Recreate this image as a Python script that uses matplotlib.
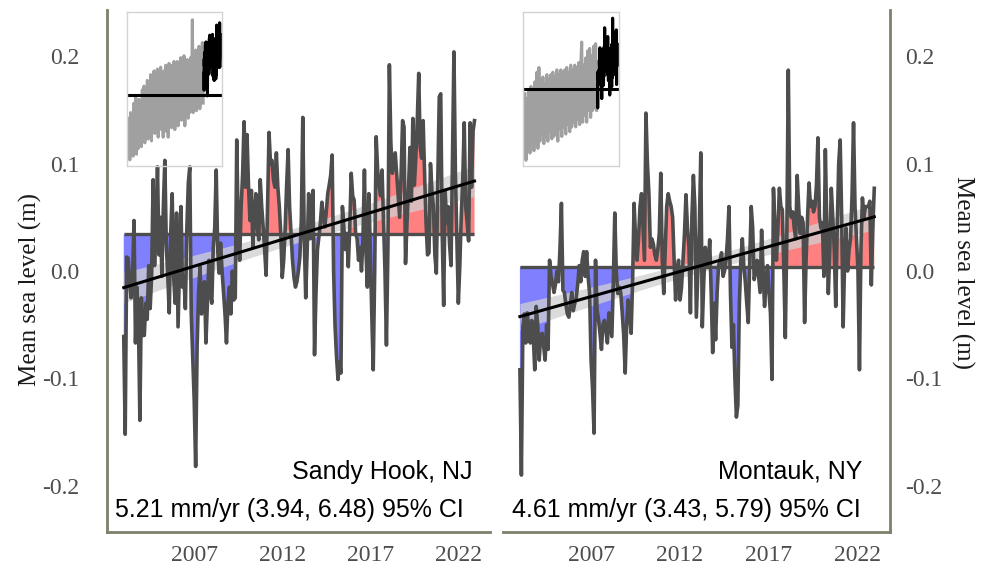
import numpy as np
import matplotlib
matplotlib.use('Agg')
import matplotlib.pyplot as plt

# Monthly mean sea level (m), Jan 2003 onwards
start_year = 2003.0

sandy_hook_msl = [
    -0.061, -0.152, 0.013, 0.012, -0.010, -0.025, -0.005, 0.047, -0.067, -0.015,
    -0.045, -0.139, -0.025, -0.060, -0.060, -0.030, -0.045, 0.005, -0.035,
    -0.005, 0.085, 0.005, 0.045, 0.097, 0.015, 0.050, -0.005, 0.060, 0.103,
    0.025, -0.005, -0.039, 0.035, 0.072, -0.005, -0.030, 0.054, -0.052,
    0.005, 0.060, -0.015, -0.005, -0.035, 0.040, 0.082, 0.097, -0.040, -0.080,
    -0.120, -0.182, -0.070, -0.020, 0.004, -0.040, -0.027, -0.010, -0.067, -0.030,
    0.010, -0.020, -0.030, 0.022, 0.040, 0.094, 0.020, -0.002, 0.026,
    0.000, -0.020, -0.040, -0.067, -0.030, -0.015, -0.040, 0.000, -0.027, -0.025,
    0.122, 0.040, 0.010, 0.060, 0.090, 0.139, 0.078, 0.127, 0.080,
    0.047, 0.075, 0.022, 0.050, 0.072, 0.040, 0.029, 0.085, 0.060, 0.041,
    0.020, -0.004, 0.060, 0.129, 0.100, 0.103, 0.085, 0.078, 0.110, 0.078,
    0.060, 0.035, -0.006, 0.010, 0.040, 0.080, 0.113, 0.060, 0.035,
    0.010, -0.006, -0.015, -0.010, 0.000, 0.013, 0.047, 0.143, 0.030, -0.025,
    0.020, 0.072, 0.030, 0.047, 0.075, -0.078, -0.020, 0.020, 0.032,
    0.045, 0.064, 0.050, 0.041, 0.055, 0.072, 0.080, 0.089, 0.108, 0.000,
    -0.052, -0.080, -0.101, -0.085, -0.095, 0.060, 0.040, 0.020, 0.035, 0.004,
    0.040, 0.091, 0.070, 0.066, 0.035, 0.030, 0.010, 0.022, 0.000,
    0.030, 0.094, 0.020, -0.015, 0.072, 0.020, -0.040, -0.092, 0.000, 0.125,
    0.094, 0.080, 0.070, 0.094, 0.047, 0.000, -0.069, 0.020, 0.192,
    0.120, 0.091, 0.100, 0.110, 0.090, 0.070, 0.050, 0.090, 0.140, 0.134,
    0.007, 0.045, 0.075, 0.115, 0.065, 0.142, 0.080, 0.105, 0.140, 0.184,
    0.115, 0.105, 0.140, 0.090, 0.045, 0.015, 0.017, 0.100, 0.075,
    0.060, 0.015, -0.002, 0.085, 0.162, 0.165, 0.035, -0.032, 0.075, 0.045,
    0.060, 0.025, 0.005, 0.105, 0.204, 0.090, 0.028, -0.030, 0.005,
    0.052, 0.085, 0.138, 0.060, 0.045, 0.028, 0.138, 0.078, 0.130, 0.140,
]

montauk_msl = [
    -0.092, -0.190, -0.052, -0.040, -0.067, -0.039, -0.055, -0.067, -0.046, -0.060,
    -0.092, -0.033, -0.050, -0.083, -0.060, -0.058, -0.070, -0.083, -0.050, -0.073,
    0.010, -0.005, -0.012, -0.020, -0.012, 0.000, -0.010, 0.020, 0.063, -0.018,
    -0.020, -0.031, -0.040, -0.043, -0.031, -0.020, -0.037, -0.030, -0.025, -0.012,
    0.005, -0.010, 0.010, 0.018, -0.005, 0.018, -0.005, -0.021, -0.083, -0.110,
    -0.151, 0.010, -0.036, -0.045, -0.058, -0.073, -0.050, -0.046, -0.055, -0.067,
    -0.039, -0.050, -0.061, -0.010, 0.054, 0.000, -0.021, -0.015, -0.020, -0.039,
    -0.060, -0.095, -0.050, -0.027, -0.040, -0.058, -0.010, 0.063, 0.030, 0.010,
    0.030, 0.060, 0.072, 0.040, 0.010, 0.147, 0.100, 0.072, 0.022, 0.030,
    0.025, 0.015, 0.010, 0.020, 0.035, 0.091, 0.010, -0.021, 0.020, 0.060,
    0.072, 0.065, 0.060, 0.050, 0.010, -0.027, 0.000, 0.010, -0.027, -0.015,
    0.010, 0.035, 0.071, 0.040, 0.022, -0.039, 0.050, 0.089, 0.060, -0.043,
    0.000, 0.040, 0.110, -0.052, -0.010, 0.022, 0.010, 0.005, 0.029, -0.020,
    -0.076, -0.030, -0.064, -0.020, 0.005, 0.010, 0.017, -0.005, 0.000, 0.010,
    0.030, 0.060, -0.020, -0.071, -0.050, -0.100, -0.136, -0.125, -0.030, 0.010,
    0.030, 0.005, -0.010, -0.030, -0.048, 0.010, 0.060, 0.040, -0.008, 0.000,
    0.010, -0.005, -0.020, 0.038, 0.000, -0.033, -0.010, 0.005, -0.020, -0.040,
    -0.101, 0.077, 0.040, 0.010, 0.040, 0.077, 0.060, 0.057, 0.000, -0.062,
    0.030, 0.187, 0.060, 0.050, 0.055, 0.040, 0.030, 0.089, 0.060, 0.035,
    0.050, 0.045, -0.048, 0.010, 0.050, 0.082, 0.060, 0.065, 0.055, 0.060,
    0.080, 0.124, 0.050, 0.040, 0.045, -0.005, 0.113, 0.040, -0.021, 0.020,
    0.077, 0.050, 0.020, -0.033, 0.040, 0.100, 0.122, 0.050, -0.052, 0.010,
    0.040, 0.000, 0.020, 0.030, 0.070, 0.138, 0.060, 0.030, 0.000, -0.092,
    0.020, 0.068, 0.050, 0.060, 0.060, 0.060, 0.065, -0.013, 0.040, 0.077,
]

# Long records for the insets (yearly, m)
sandy_hook_hist_start = 1913
sandy_hook_hist = [
    -0.30, -0.52, -0.27, -0.45, -0.35, -0.50, -0.22, -0.42, -0.19, -0.49,
    -0.25, -0.46, -0.20, -0.38, -0.30, -0.45, -0.15, -0.40, -0.13, -0.43,
    -0.20, -0.38, -0.10, -0.41, -0.16, -0.35, -0.07, -0.42, -0.12, -0.37,
    -0.05, -0.38, -0.10, -0.33, -0.04, -0.40, -0.12, -0.30, -0.03, -0.36,
    -0.08, -0.40, -0.05, -0.32, -0.02, -0.37, -0.10, -0.40, -0.01, -0.33,
    -0.06, -0.35, -0.02, -0.30, 0.00, -0.36, -0.08, -0.31, 0.00, -0.34,
    -0.04, -0.29, 0.02, -0.31, -0.05, -0.26, 0.03, -0.34, -0.02, -0.28,
    0.01, -0.30, -0.03, -0.27, 0.02, -0.25, 0.22, -0.27, 0.03, -0.24,
    0.06, -0.26, 0.00, -0.22, 0.08, -0.25, 0.04, -0.20, 0.10, -0.22,
]
montauk_hist_start = 1930
montauk_hist = [
    -0.13, -0.41, -0.15, -0.36, -0.12, -0.38, -0.10, -0.33, -0.14, -0.37,
    -0.08, -0.34, -0.04, -0.36, -0.02, -0.33, -0.07, -0.30, -0.06, -0.34,
    -0.09, -0.31, -0.05, -0.33, -0.07, -0.29, -0.05, -0.32, -0.04, -0.31,
    -0.06, -0.30, -0.03, -0.33, -0.05, -0.28, -0.03, -0.31, -0.04, -0.27,
    -0.03, -0.30, -0.02, -0.26, -0.04, -0.29, -0.01, -0.27, -0.03, -0.25,
    -0.01, -0.27, -0.02, -0.24, 0.00, -0.26, -0.02, 0.087, -0.25, -0.01,
    -0.22, 0.02, -0.25, 0.05, -0.20, 0.06, -0.23, 0.03, -0.20, 0.07,
    -0.19, 0.08, -0.20,
]
sandy_hook_ref = -0.177
montauk_ref = -0.11

station_names = ['Sandy Hook, NJ', 'Montauk, NY']
rate_labels = ['5.21 mm/yr (3.94, 6.48) 95% CI', '4.61 mm/yr (3.43, 5.79) 95% CI']
year_ticks = [2007, 2012, 2017, 2022]
level_ticks = [-0.2, -0.1, 0.0, 0.1, 0.2]
level_labels = ['-0.2', '-0.1', '0.0', '0.1', '0.2']

spine_col = '#7f7f6b'
line_col = '#4d4d4d'
serif = ['Liberation Serif', 'DejaVu Serif']
sans = ['Liberation Sans', 'DejaVu Sans']

fig = plt.figure(figsize=(9.89, 5.71), dpi=100)
ax1 = fig.add_axes([0.1082, 0.0683, 0.3873, 0.9142])
ax2 = fig.add_axes([0.5086, 0.0683, 0.3913, 0.9142])
ins1 = fig.add_axes([0.1284, 0.7093, 0.0961, 0.2697])
ins2 = fig.add_axes([0.5288, 0.7093, 0.0971, 0.2697])


def draw_panel(ax, ins, msl, hist_start, hist, ref, ins_xlim, ins_ylim, name, rate, side):
    y = np.array(msl)
    t = start_year + np.arange(len(y)) / 12
    base = y.mean()

    # red above the period mean, blue below
    ax.fill_between(t, base, y, where=y >= base, interpolate=True,
                    color='#ff8080', lw=0)
    ax.fill_between(t, base, y, where=y < base, interpolate=True,
                    color='#8080ff', lw=0)
    ax.hlines(base, t[0], t[-1], color=line_col, lw=2.4)
    ax.plot(t, y, color=line_col, lw=2.6)

    # linear trend with 95% confidence band
    slope, icpt = np.polyfit(t, y, 1)
    fit = icpt + slope * t
    resid = y - fit
    s = np.sqrt(np.sum(resid ** 2) / (len(y) - 2))
    se = s * np.sqrt(1 / len(y) + (t - t.mean()) ** 2 / np.sum((t - t.mean()) ** 2))
    ax.fill_between(t, fit - 1.97 * se, fit + 1.97 * se, color='#d0d0d0', alpha=0.75, lw=0)
    ax.plot(t, fit, color='black', lw=2.2)

    ax.set_xlim(2002.05, 2023.8)
    ax.set_ylim(-0.243, 0.243)
    ax.set_xticks(year_ticks)
    ax.set_xticklabels([str(v) for v in year_ticks], family=serif, fontsize=17, color='#4d4d4d')
    ax.set_yticks(level_ticks)
    ax.set_yticklabels(level_labels, family=serif, fontsize=17, color='#4d4d4d')
    ax.tick_params(length=0, axis='x', pad=9)
    for sp in ax.spines.values():
        sp.set_visible(False)
    ax.spines['bottom'].set_visible(True)
    ax.spines['bottom'].set_color(spine_col)
    ax.spines['bottom'].set_linewidth(2)
    if side == 'left':
        ax.spines['left'].set_visible(True)
        ax.spines['left'].set_color(spine_col)
        ax.spines['left'].set_linewidth(2)
        ax.tick_params(axis='y', length=0, pad=20)
        ax.text(0.953, 0.115, name, transform=ax.transAxes, ha='right', va='center',
                family=sans, fontsize=18)
        ax.text(0.021, 0.042, rate, transform=ax.transAxes, ha='left', va='center',
                family=sans, fontsize=18)
    else:
        ax.spines['right'].set_visible(True)
        ax.spines['right'].set_color(spine_col)
        ax.spines['right'].set_linewidth(2)
        ax.yaxis.tick_right()
        ax.tick_params(axis='y', length=0, pad=11)
        ax.text(0.928, 0.115, name, transform=ax.transAxes, ha='right', va='center',
                family=sans, fontsize=18)
        ax.text(0.023, 0.042, rate, transform=ax.transAxes, ha='left', va='center',
                family=sans, fontsize=18)

    # inset: long record in grey, recent period in black
    th = hist_start + np.arange(len(hist))
    ins.plot(th, hist, color='#a0a0a0', lw=2.2)
    ins.plot(t, y, color='black', lw=2.2)
    ins.axhline(ref, color='black', lw=2.2)
    ins.set_xlim(*ins_xlim)
    ins.set_ylim(*ins_ylim)
    ins.set_xticks([])
    ins.set_yticks([])
    for sp in ins.spines.values():
        sp.set_color('#d3d3d3')
        sp.set_linewidth(1)
    ins.patch.set_alpha(0)


draw_panel(ax1, ins1, sandy_hook_msl, sandy_hook_hist_start, sandy_hook_hist, sandy_hook_ref,
           (1910.6, 2024.6), (-0.552, 0.261), station_names[0], rate_labels[0], 'left')
draw_panel(ax2, ins2, montauk_msl, montauk_hist_start, montauk_hist, montauk_ref,
           (1928.0, 2024.5), (-0.434, 0.213), station_names[1], rate_labels[1], 'right')

fig.text(30 / 989, 1 - 290 / 571, 'Mean sea level (m)', rotation=90, ha='center', va='center',
         family=serif, fontsize=18, color='#1a1a1a')
fig.text(963 / 989, 1 - 272 / 571, 'Mean sea level (m)', rotation=270, ha='center', va='center',
         family=serif, fontsize=18, color='#1a1a1a')

fig.savefig('out.png', dpi=100)
